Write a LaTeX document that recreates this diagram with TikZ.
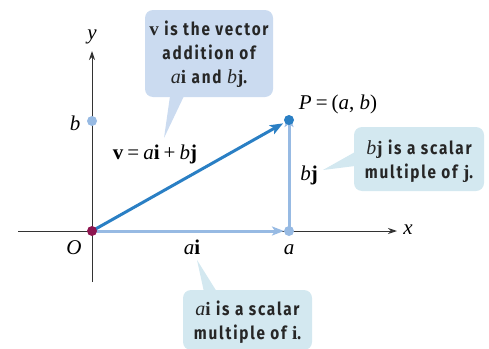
\documentclass[tikz,border=0pt]{standalone}
\usepackage{fontspec}
\setmainfont{Liberation Serif}
\newfontfamily\callfont[FakeStretch=0.85,LetterSpace=10]{Fira Sans}
\usetikzlibrary{arrows.meta,calc}
\definecolor{vblue}{HTML}{2A7FC4}
\definecolor{cblue}{HTML}{97BAE3}
\definecolor{boxa}{HTML}{CBDBF0}
\definecolor{boxb}{HTML}{D3E8F0}
\definecolor{odot}{HTML}{8E1550}
\definecolor{axisc}{HTML}{333333}
\newcommand{\cit}[1]{{\rmfamily\mdseries\itshape\fontsize{20}{24}\selectfont #1}}
\newcommand{\cbf}[1]{{\rmfamily\bfseries\fontsize{19}{24}\selectfont #1}}
\newcommand{\opsp}{\hspace{4pt}}
\begin{document}
\begin{tikzpicture}[x=1pt,y=-1pt,
  lab/.style={font=\fontsize{21}{23}\selectfont, inner sep=0pt},
  axisline/.style={draw=axisc, line width=1pt, -{Stealth[length=9pt,width=6pt]}},
  vecline/.style={draw=vblue, line width=3pt, -{Stealth[length=13pt,width=10pt,inset=3pt]}},
  compline/.style={draw=cblue, line width=3pt, -{Stealth[length=12pt,width=9pt,inset=3pt]}},
  calltext/.style={font=\callfont\bfseries\fontsize{18}{24}\selectfont, align=center, inner sep=0pt, text=black!85},
  callbox/.style={rounded corners=8pt, inner sep=0pt},
  dotc/.style={circle, inner sep=0pt, minimum size=10pt}
]
\useasboundingbox (0,0) rectangle (489,348);

% callouts
\node[callbox, fill=boxa, minimum width=128pt, minimum height=87pt] (c1) at (209,53.5) {};
\coordinate (t1) at (164,138);
\fill[boxa] (170,96) -- (t1) -- (184,96) -- cycle;
\node[calltext] at (209,54) {\cbf{v} is the vector\\addition of\\\cit{a}\cbf{i} and \cit{b}\cbf{j}.};

\node[callbox, fill=boxb, minimum width=130pt, minimum height=64pt] (c2) at (419,159) {};
\coordinate (t2) at (323,170);
\fill[boxb] (355,152) -- (t2) -- (355,166) -- cycle;
\node[calltext] at (419,161) {\cit{b}\cbf{j} is a scalar\\multiple of \cbf{j}.};

\node[callbox, fill=boxb, minimum width=129pt, minimum height=60pt] (c3) at (247.5,320) {};
\coordinate (t3) at (197,260);
\fill[boxb] (204,292) -- (t3) -- (217,292) -- cycle;
\node[calltext] at (247.5,322) {\cit{a}\cbf{i} is a scalar\\multiple of \cbf{i}.};

% axes
\coordinate (xs) at (18,231);
\coordinate (xe) at (397,231);
\coordinate (ys) at (92,282);
\coordinate (ye) at (92,51);
\draw[axisline] (xs) -- (xe);
\draw[axisline] (ys) -- (ye);

% points
\coordinate (O) at (92,231);
\coordinate (P) at (289,120);
\coordinate (A) at (289,231);
\coordinate (B) at (92,121);

\draw[compline] (O) -- ([xshift=-5pt]A);
\draw[compline] (A) -- ([yshift=5pt]P);
\draw[vecline] (O) -- ($(O)!0.97!(P)$);

\node[dotc, fill=cblue] (Bd) at (B) {};
\node[dotc, fill=cblue] (Ad) at (A) {};
\node[dotc, fill=vblue] (Pd) at (P) {};
\node[dotc, fill=odot] (Od) at (O) {};

% labels
\node[lab] (ylab) at (92,37) {\itshape y};
\node[lab] (xlab) at (408,230) {\itshape x};
\node[lab] (blab) at (75,123) {\itshape b};
\node[lab] (olab) at (74,248) {\itshape O};
\node[lab] (alab) at (289,250) {\itshape a};
\node[lab] (ailab) at (192,247) {{\itshape a}\textbf{i}};
\node[lab] (plab) at (338,104) {{\itshape P}\opsp=\opsp({\itshape a}, {\itshape b})};
\node[lab] (vlab) at (155,154) {\textbf{v}\opsp=\opsp{\itshape a}\textbf{i}\opsp+\opsp{\itshape b}\textbf{j}};
\node[lab] (bjlab) at (309,175) {{\itshape b}\textbf{j}};
\end{tikzpicture}
\end{document}
